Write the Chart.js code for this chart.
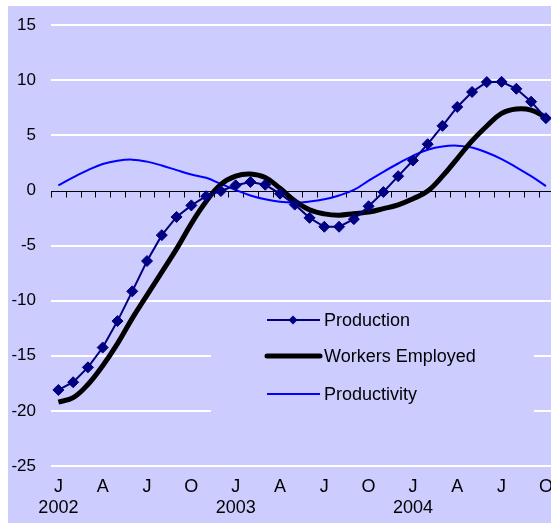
<!DOCTYPE html>
<html>
<head>
<meta charset="utf-8">
<script src="https://cdn.jsdelivr.net/npm/chart.js@4"></script>
<style>
  html, body { margin: 0; padding: 0; background: #ffffff; overflow: hidden; }
  #wrap { width: 551px; height: 523px; overflow: hidden; }
  canvas { display: block; }
</style>
</head>
<body>
<div id="wrap"><canvas id="chart" width="563" height="523"></canvas></div>
<script>
const categories = [
  "Jan 2002", "Feb 2002", "Mar 2002", "Apr 2002", "May 2002", "Jun 2002",
  "Jul 2002", "Aug 2002", "Sep 2002", "Oct 2002", "Nov 2002", "Dec 2002",
  "Jan 2003", "Feb 2003", "Mar 2003", "Apr 2003", "May 2003", "Jun 2003",
  "Jul 2003", "Aug 2003", "Sep 2003", "Oct 2003", "Nov 2003", "Dec 2003",
  "Jan 2004", "Feb 2004", "Mar 2004", "Apr 2004", "May 2004", "Jun 2004",
  "Jul 2004", "Aug 2004", "Sep 2004", "Oct 2004",
];

const tickLabels = [
  ["J", "2002"], "", "", "A", "", "", "J", "", "", "O", "", "",
  ["J", "2003"], "", "", "A", "", "", "J", "", "", "O", "", "",
  ["J", "2004"], "", "", "A", "", "", "J", "", "", "O",
];

const production = [
  -18.1, -17.4, -16.05, -14.25, -11.85, -9.15, -6.4, -4.05, -2.4, -1.35,
  -0.52, -0.05, 0.47, 0.77, 0.52, -0.29, -1.28, -2.48, -3.29, -3.29,
  -2.6, -1.43, -0.14, 1.3, 2.72, 4.2, 5.87, 7.58, 8.94, 9.84,
  9.86, 9.23, 8.06, 6.56,
];

const workers = [
  -19.2, -18.8, -17.6, -15.9, -13.9, -11.6, -9.5, -7.4, -5.3, -3.0,
  -1.0, 0.55, 1.3, 1.5, 1.17, 0.2, -0.93, -1.75, -2.12, -2.24,
  -2.1, -1.96, -1.65, -1.3, -0.75, -0.05, 1.3, 2.9, 4.5, 5.85,
  7.0, 7.4, 7.3, 6.65,
];

const productivity = [
  0.47, 1.2, 1.85, 2.4, 2.7, 2.8, 2.62, 2.27, 1.85, 1.45,
  1.15, 0.6, 0.05, -0.45, -0.8, -1.03, -1.1, -1.0, -0.8, -0.45,
  0.05, 0.9, 1.7, 2.45, 3.15, 3.7, 4.0, 4.07, 3.9, 3.45,
  2.85, 2.1, 1.3, 0.4,
];

const yTicks = [15, 10, 5, 0, -5, -10, -15, -20, -25];

const FONT = "'Liberation Sans', Arial, sans-serif";
const BG = "#ccccff";

// lavender panel behind everything, leaving a thin white margin top/left
const backgroundPlugin = {
  id: "panel",
  beforeDraw(chart) {
    const ctx = chart.ctx;
    ctx.save();
    ctx.fillStyle = BG;
    ctx.fillRect(8, 6, chart.width - 8, chart.height - 6);
    ctx.restore();
  },
};

// x axis drawn through zero, with a tick at every month boundary
const zeroAxisPlugin = {
  id: "zeroAxis",
  beforeDatasetsDraw(chart) {
    const ctx = chart.ctx;
    const x = chart.scales.x;
    const y0 = Math.round(chart.scales.y.getPixelForValue(0)) + 0.5;
    const w = x.getPixelForValue(1) - x.getPixelForValue(0);
    ctx.save();
    ctx.strokeStyle = "#000000";
    ctx.lineWidth = 1;
    ctx.beginPath();
    ctx.moveTo(chart.chartArea.left, y0);
    ctx.lineTo(chart.chartArea.right, y0);
    for (let i = 0; i <= categories.length; i++) {
      const px = Math.round(x.getPixelForValue(0) - w / 2 + i * w) + 0.5;
      ctx.moveTo(px, y0);
      ctx.lineTo(px, y0 + 6);
    }
    ctx.stroke();
    ctx.restore();
  },
};

// legend box sitting inside the plot, covering the gridlines
const legendPlugin = {
  id: "innerLegend",
  afterDatasetsDraw(chart) {
    const ctx = chart.ctx;
    ctx.save();
    ctx.fillStyle = BG;
    ctx.fillRect(211, 303, 323, 112);
    const rows = [320, 356, 394];
    chart.data.datasets.forEach((ds, i) => {
      const y = rows[i];
      ctx.strokeStyle = ds.borderColor;
      ctx.lineWidth = ds.borderWidth;
      ctx.lineCap = i === 1 ? "round" : "butt";
      ctx.beginPath();
      ctx.moveTo(267, y);
      ctx.lineTo(320, y);
      ctx.stroke();
      if (i === 0) {
        ctx.fillStyle = ds.pointBackgroundColor;
        ctx.beginPath();
        ctx.moveTo(293, y - 4.5);
        ctx.lineTo(297.5, y);
        ctx.lineTo(293, y + 4.5);
        ctx.lineTo(288.5, y);
        ctx.closePath();
        ctx.fill();
      }
      ctx.fillStyle = "#000000";
      ctx.font = "18px " + FONT;
      ctx.textBaseline = "middle";
      ctx.textAlign = "left";
      ctx.fillText(ds.label, 324, y + 1);
    });
    ctx.restore();
  },
};

new Chart(document.getElementById("chart"), {
  type: "line",
  data: {
    labels: categories,
    datasets: [
      {
        label: "Production",
        data: production,
        borderColor: "#000080",
        borderWidth: 2,
        pointStyle: "rectRot",
        pointRadius: 5.5,
        pointBackgroundColor: "#000080",
        pointBorderColor: "#000080",
        pointBorderWidth: 1,
        tension: 0,
      },
      {
        label: "Workers Employed",
        data: workers,
        borderColor: "#000000",
        borderWidth: 5,
        pointRadius: 0,
        tension: 0.4,
      },
      {
        label: "Productivity",
        data: productivity,
        borderColor: "#0000ff",
        borderWidth: 2,
        pointRadius: 0,
        tension: 0.4,
      },
    ],
  },
  options: {
    responsive: false,
    animation: false,
    devicePixelRatio: 1,
    layout: { padding: { top: 22, left: 0, right: 0, bottom: 0 } },
    plugins: {
      legend: { display: false },
      tooltip: { enabled: false },
    },
    scales: {
      x: {
        offset: true,
        grid: { display: false, offset: true, drawTicks: false },
        border: { display: false },
        ticks: {
          autoSkip: false,
          maxRotation: 0,
          padding: 10,
          color: "#000000",
          font: { family: FONT, size: 18, lineHeight: 1.2 },
          callback: (value, index) => tickLabels[index],
        },
        afterFit: (scale) => { scale.height = 57; },
      },
      y: {
        min: -25,
        max: 15,
        afterBuildTicks: (scale) => {
          scale.ticks = yTicks.map((v) => ({ value: v }));
        },
        grid: {
          drawTicks: false,
          lineWidth: 2,
          color: (c) => (c.tick && c.tick.value === 0 ? "rgba(0,0,0,0)" : "#ffffff"),
        },
        border: { display: false },
        ticks: {
          padding: 15,
          color: "#000000",
          font: { family: FONT, size: 17 },
        },
        afterFit: (scale) => { scale.width = 51; },
      },
    },
  },
  plugins: [backgroundPlugin, zeroAxisPlugin, legendPlugin],
});
</script>
</body>
</html>
